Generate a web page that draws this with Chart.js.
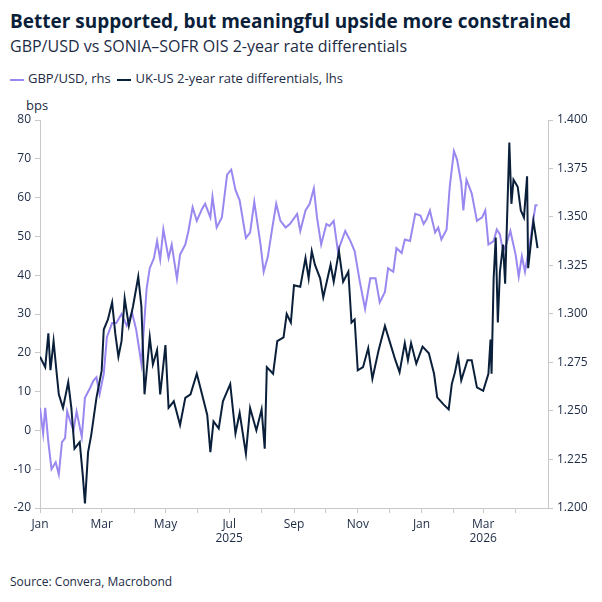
<!DOCTYPE html>
<html>
<head>
<meta charset="utf-8">
<script src="https://cdn.jsdelivr.net/npm/chart.js@4"></script>
<style>
  body { margin: 0; width: 602px; height: 602px; background: #fff; font-family: "Open Sans", sans-serif; color: #0b1f3a; position: relative; overflow: hidden; }
  .title { position: absolute; left: 10px; top: 8px; font-size: 19px; font-weight: 700; }
  .subtitle { position: absolute; left: 10px; top: 35px; font-size: 16px; color: #1c2b45; }
  .legend { position: absolute; left: 10px; top: 69px; font-size: 13px; color: #1c2b45; }
  .legend span.sw { display: inline-block; width: 14px; height: 2px; vertical-align: middle; margin-right: 4px; }
  .bps { position: absolute; left: 26px; top: 96px; font-size: 13px; color: #1c2b45; }
  .source { position: absolute; left: 10px; top: 573px; font-size: 12px; color: #1c2b45; }
  #wrap { position: absolute; left: 0; top: 100px; width: 602px; height: 470px; }
</style>
</head>
<body>
<div class="title">Better supported, but meaningful upside more constrained</div>
<div class="subtitle">GBP/USD vs SONIA–SOFR OIS 2-year rate differentials</div>
<div class="legend"><span class="sw" style="background:#9b87f0"></span>GBP/USD, rhs&nbsp;&nbsp;<span class="sw" style="background:#0a1f3a"></span>UK-US 2-year rate differentials, lhs</div>
<div class="bps">bps</div>
<div id="wrap"><canvas id="chart"></canvas></div>
<div class="source">Source: Convera, Macrobond</div>
<script>
// days since 1 Jan 2025
const diffDays = [0,5,8,10,13,16,18,22,27,30,33,38,41,43,46,49,54,59,61,65,69,72,75,78,81,85,89,94,97,100,
  105,108,112,115,120,123,128,134,139,144,150,155,160,163,166,171,175,182,187,191,197,201,207,212,215,217,223,227,233,236,
  240,243,249,254,257,260,263,268,271,278,281,286,290,295,298,301,304,309,314,318,324,330,335,340,344,349,352,355,360,366,
  372,377,380,386,391,394,397,400,403,409,413,418,424,429,431,432,434,436,438,440,443,445,449,451,453,457,460,463,466,467,472,475,476];
const diffValues = [19,16.3,25,15.5,23,14.6,9.3,5.8,12.4,5.8,-4.7,-3,-11.8,-18.8,-5.6,-1.2,8.4,15.4,26,28.6,
  33,25,19,23,34,27,32,39.6,32,9.3,24,17,20.7,9.3,22,5.8,7.5,1.4,8.4,9.3,
  14.6,9.3,4,-5.6,2.3,0.5,7.5,11.9,-0.8,4.5,-6,5.8,0,5.4,-4.7,16.3,14.6,23,24,30,
  27.8,37.4,37,44.4,39.2,46.2,42.7,39.2,34.3,42.7,38.3,46.2,38.3,40.9,27.8,28.6,15.5,16.3,21.2,13.3,
  20.7,26.9,22.5,18.1,15,22.5,18.1,22.5,17.2,21.6,19.9,14.6,8.5,6.7,5.4,12,15,19,12.9,18.1,
  18.1,11.1,10.2,14.6,23.4,14.6,39.2,49.7,27.8,40.9,47.9,37.8,74.2,58.4,64.6,62.8,56.7,54.9,65.5,41.8,54,48.8,47];

const fxDays = [0,3,5,8,11,15,18,21,24,26,29,32,35,40,43,48,51,54,57,61,64,69,73,78,83,88,92,97,102,105,
  109,112,115,118,123,126,131,134,139,142,146,150,155,158,163,165,169,174,179,183,187,191,197,201,205,211,214,218,222,226,230,235,
  239,246,249,254,258,262,265,269,274,277,281,285,292,297,301,306,311,316,321,325,330,333,338,341,346,349,354,359,364,367,
  370,373,378,381,384,389,392,396,399,403,405,408,413,418,423,426,429,434,437,440,443,446,450,455,458,461,464,469,474,476];
const fxValues = [1.2516,1.2384,1.2516,1.234,1.22,1.2236,1.2174,1.234,1.236,1.2498,1.2446,1.24,1.2498,1.2366,1.2568,1.262,1.2656,1.2674,1.2586,1.2692,
  1.288,1.2954,1.2954,1.30,1.294,1.3008,1.292,1.2744,1.313,1.3236,1.3288,1.3376,1.328,1.3436,1.3288,1.3358,1.3182,1.3306,1.3358,1.3428,
  1.355,1.348,1.3542,1.3568,1.3498,1.3604,1.3446,1.3498,1.3718,1.3744,1.364,1.3586,1.3392,1.342,1.3578,1.3358,1.3218,1.3296,1.3436,1.3568,1.348,1.3446,
  1.3464,1.3516,1.3428,1.3534,1.3568,1.3648,1.3498,1.3358,1.3464,1.3454,1.348,1.3324,1.3428,1.3376,1.3324,1.3166,1.3026,1.3184,1.3184,1.306,
  1.3114,1.3236,1.3218,1.334,1.3314,1.3384,1.3376,1.3516,1.3508,1.3464,1.349,1.3534,1.342,1.3446,1.3384,1.3436,1.3656,1.384,1.3796,1.3674,
  1.3534,1.3692,1.3622,1.348,1.3498,1.3534,1.3358,1.3376,1.3436,1.341,1.3324,1.3358,1.3428,1.3306,1.3192,1.3298,1.3218,1.3376,1.356,1.356];

const monthTicks = [0,31,59,90,120,151,181,212,243,273,304,334,365,396,424,455];
const labelTicks = { 0: ['Jan'], 59: ['Mar'], 120: ['May'], 181: ['Jul', '2025'], 243: ['Sep'], 304: ['Nov'], 365: ['Jan'], 424: ['Mar', '2026'] };
const leftTicks = [-20,-10,0,10,20,30,40,50,60,70,80];
const rightTicks = [1.200,1.225,1.250,1.275,1.300,1.325,1.350,1.375,1.400];

const axisColor = '#c8c8c8';
const textColor = '#1c2b45';
Chart.defaults.font.family = '"Open Sans", sans-serif';
Chart.defaults.font.size = 12;
Chart.defaults.color = textColor;

new Chart(document.getElementById('chart'), {
  type: 'line',
  data: {
    datasets: [
      {
        label: 'UK-US 2-year rate differentials, lhs',
        data: diffDays.map((d, i) => ({ x: d, y: diffValues[i] })),
        borderColor: '#0a1f3a', borderWidth: 2, pointRadius: 0, tension: 0, yAxisID: 'y'
      },
      {
        label: 'GBP/USD, rhs',
        data: fxDays.map((d, i) => ({ x: d, y: fxValues[i] })),
        borderColor: '#9b87f0', borderWidth: 2, pointRadius: 0, tension: 0, yAxisID: 'y1'
      }
    ]
  },
  options: {
    responsive: true, maintainAspectRatio: false, animation: false,
    layout: { padding: { top: 20, bottom: 0, left: 0, right: 0 } },
    plugins: { legend: { display: false }, tooltip: { enabled: false } },
    scales: {
      x: {
        type: 'linear', min: 0, max: 486,
        afterBuildTicks: axis => { axis.ticks = monthTicks.map(v => ({ value: v })); },
        afterFit: axis => { axis.height = 62; },
        grid: { drawOnChartArea: false, color: axisColor, tickLength: 5 },
        border: { color: axisColor },
        ticks: { autoSkip: false, maxRotation: 0, padding: 4, callback: v => labelTicks[v] || '' }
      },
      y: {
        position: 'left', min: -20, max: 80,
        afterBuildTicks: axis => { axis.ticks = leftTicks.map(v => ({ value: v })); },
        afterFit: axis => { axis.width = 40; },
        grid: { drawOnChartArea: false, color: axisColor, tickLength: 5 },
        border: { color: axisColor },
        ticks: { padding: 4 }
      },
      y1: {
        position: 'right', min: 1.2, max: 1.4,
        afterBuildTicks: axis => { axis.ticks = rightTicks.map(v => ({ value: v })); },
        afterFit: axis => { axis.width = 54; },
        grid: { drawOnChartArea: false, color: axisColor, tickLength: 5 },
        border: { color: axisColor },
        ticks: { padding: 4, callback: v => v.toFixed(3) }
      }
    }
  }
});
</script>
</body>
</html>
